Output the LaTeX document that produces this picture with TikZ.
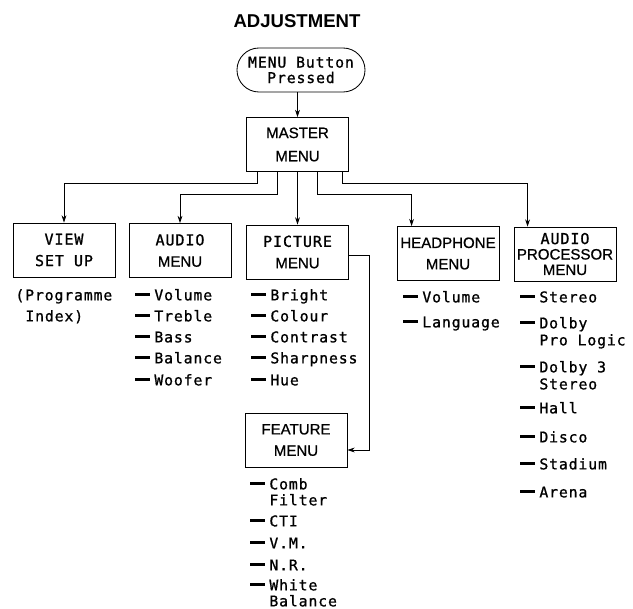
\documentclass[tikz,border=0pt]{standalone}
\usepackage{fontspec}
\setmainfont[FakeBold=0.8]{Liberation Sans}
\newfontfamily\titlefont{Liberation Sans}
\newfontfamily\mono[LetterSpace=6,FakeBold=1]{DejaVu Sans Mono}
\usetikzlibrary{positioning,calc,arrows.meta}
\newcommand{\itemdash}{\rule[3.2pt]{10.5pt}{1.8pt}\hspace{3pt}}
\tikzset{
  menubox/.style={draw,minimum width=2.55cm,minimum height=1.35cm,align=center,inner sep=0pt,font=\fontsize{10.7}{15.2}\selectfont},
  entry/.style={anchor=west,inner sep=0pt,text height=7.6pt,text depth=0pt,font=\mono\fontsize{10.5}{12}\selectfont},
  arr/.style={-{Stealth[length=1.8mm,width=1.2mm]}},
}

\begin{document}
\begin{tikzpicture}[x=0.025cm,y=-0.025cm,line width=0.6pt]
  \useasboundingbox (0,0) rectangle (633,609);
  \node[font=\titlefont\bfseries\fontsize{13.2}{15}\selectfont](title) at (297,21) {ADJUSTMENT};
  \node[draw,rounded corners=0.55cm,minimum width=3.2cm,minimum height=1.1cm,align=center,font=\mono\fontsize{10.5}{11}\selectfont](start) at (301,70) {MENU Button\\Pressed};
  % menus
  \node[menubox,font=\fontsize{10.7}{16.5}\selectfont](master) at (297.5,144.5) {MASTER\\MENU};
  \node[menubox](view) at (64,250) {{\mono VIEW}\\{\mono SET UP}};
  \node[menubox](audio) at (180,250.5) {{\mono AUDIO}\\MENU};
  \node[menubox](picture) at (297.5,252) {{\mono PICTURE}\\MENU};
  \node[menubox](headphone) at (448,253.5) {HEADPHONE\\MENU};
  \node[menubox,font=\fontsize{10.7}{11}\selectfont](audioproc) at (565,254) {{\mono AUDIO}\\PROCESSOR\\MENU};
  \node[menubox](feature) at (296,440) {FEATURE\\MENU};
  % view set up
  \node[entry](vProg) at (15,295) {(Programme};
  \node[entry](vIndex) at (25,316) {Index)};
  % audio
  \node[entry](aVolume) at (135,295) {\itemdash Volume};
  \node[entry](aTreble) at (135,316) {\itemdash Treble};
  \node[entry](aBass) at (135,337) {\itemdash Bass};
  \node[entry](aBalance) at (135,358) {\itemdash Balance};
  \node[entry](aWoofer) at (135,380) {\itemdash Woofer};
  % picture
  \node[entry](pBright) at (251,295) {\itemdash Bright};
  \node[entry](pColour) at (251,316) {\itemdash Colour};
  \node[entry](pContrast) at (251,337) {\itemdash Contrast};
  \node[entry](pSharp) at (251,358) {\itemdash Sharpness};
  \node[entry](pHue) at (251,380) {\itemdash Hue};
  % headphone
  \node[entry](hVolume) at (403,297) {\itemdash Volume};
  \node[entry](hLanguage) at (403,322) {\itemdash Language};
  % audio processor
  \node[entry](sStereo) at (520,297) {\itemdash Stereo};
  \node[entry](sDolby) at (520,323) {\itemdash Dolby};
  \node[entry](sProLogic) at (539,340) {Pro Logic};
  \node[entry](sDolbyThree) at (520,367) {\itemdash Dolby 3};
  \node[entry](sStereoB) at (539,384) {Stereo};
  \node[entry](sHall) at (520,408) {\itemdash Hall};
  \node[entry](sDisco) at (520,437) {\itemdash Disco};
  \node[entry](sStadium) at (520,464) {\itemdash Stadium};
  \node[entry](sArena) at (520,492) {\itemdash Arena};
  % feature
  \node[entry](fComb) at (250,484) {\itemdash Comb};
  \node[entry](fFilter) at (269,500) {Filter};
  \node[entry](fCTI) at (250,521) {\itemdash CTI};
  \node[entry](fVM) at (250,543) {\itemdash V.M.};
  \node[entry](fNR) at (250,565) {\itemdash N.R.};
  \node[entry](fWhite) at (250,585) {\itemdash White};
  \node[entry](fBalance) at (269,601) {Balance};
  % connections
  \draw[arr] (start.south -| master.north) -- (master.north);
  \draw[arr] ($(master.south)+(-40,0)$) -- ++(0,11) -| (view.north);
  \draw[arr] ($(master.south)+(-20,0)$) -- ++(0,22) -| (audio.north);
  \draw[arr] (master.south) -- (picture.north);
  \draw[arr] ($(master.south)+(20,0)$) -- ++(0,22) -| ($(headphone.north west)+(15,0)$);
  \draw[arr] ($(master.south)+(45,0)$) -- ++(0,11) -| ($(audioproc.north west)+(14,0)$);
  \draw[arr] ($(picture.east)+(0,3)$) -- ++(20,0) |- ($(feature.east)+(0,10)$);
\end{tikzpicture}
\end{document}
